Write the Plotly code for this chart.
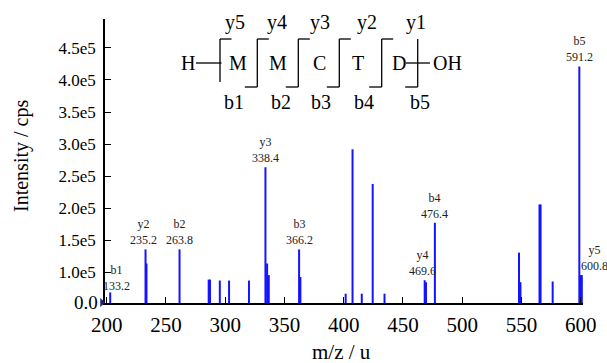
import plotly.graph_objects as go

# Observed fragment peaks: m/z position and intensity (cps)
peak_mz = [203.0, 232.8, 233.6, 261.5, 286.1, 287.2, 295.5, 303.3, 320.1,
           334.0, 335.4, 336.8, 362.4, 363.5, 401.7, 407.5, 415.3, 424.5,
           434.5, 468.4, 469.5, 477.0, 548.0, 549.2, 565.3, 566.2, 576.4,
           598.9, 599.7, 601.0]
peak_int = [0.69e5, 1.36e5, 1.14e5, 1.36e5, 0.89e5, 0.89e5, 0.875e5, 0.875e5, 0.875e5,
            2.64e5, 1.14e5, 0.96e5, 1.36e5, 0.93e5, 0.67e5, 2.92e5, 0.67e5, 2.38e5,
            0.67e5, 0.88e5, 0.85e5, 1.775e5, 1.31e5, 0.85e5, 2.06e5, 2.06e5, 0.86e5,
            4.21e5, 0.96e5, 0.96e5]

# Assigned ions: name, theoretical m/z text, index of the peak carrying the label
ion_names = ["b1", "y2", "b2", "y3", "b3", "y4", "b4", "b5", "y5"]
ion_mz_text = ["133.2", "235.2", "263.8", "338.4", "366.2", "469.6", "476.4", "591.2", "600.8"]
ion_peak = [0, 1, 3, 9, 12, 19, 21, 27, 28]
ion_xshift = [6, -2, 0, 0, 0, -2, 0, 0, 14]
ion_yshift = [-3, 0, 0, 0, 0, 0, 0, 0, 0]

# Peptide sequence for the fragmentation diagram
residues = ["M", "M", "C", "T", "D"]
y_ions = ["y5", "y4", "y3", "y2", "y1"]
b_ions = ["b1", "b2", "b3", "b4", "b5"]

y_ticks = [1.0e5, 1.5e5, 2.0e5, 2.5e5, 3.0e5, 3.5e5, 4.0e5, 4.5e5]
y_tick_text = ["1.0e5", "1.5e5", "2.0e5", "2.5e5", "3.0e5", "3.5e5", "4.0e5", "4.5e5"]
x_ticks = [200, 250, 300, 350, 400, 450, 500, 550, 600]

Y_FLOOR = 0.525e5
Y_TOP = 4.95e5
X_RANGE = [198.6, 602.0]

SERIF = "Liberation Serif, Times New Roman, serif"
W, H = 607, 363
ML, MR, MT, MB = 105, 24, 19, 60
PW, PH = W - ML - MR, H - MT - MB


def px(x):
    return (x - ML) / PW


def py(y):
    return (H - MB - y) / PH


# stick spectrum
sx, sy = [], []
for m, i in zip(peak_mz, peak_int):
    sx += [m, m, None]
    sy += [0, i, None]

fig = go.Figure()
fig.add_trace(go.Scatter(x=sx, y=sy, mode="lines",
                         line=dict(color="#1414ff", width=2), hoverinfo="skip",
                         showlegend=False))

annotations = []
for name, txt, k, xs, ys in zip(ion_names, ion_mz_text, ion_peak, ion_xshift, ion_yshift):
    annotations.append(dict(x=peak_mz[k], y=peak_int[k], xref="x", yref="y",
                            text=f"{name}<br>{txt}", showarrow=False,
                            xanchor="center", yanchor="bottom", xshift=xs, yshift=ys,
                            font=dict(family=SERIF, size=12, color="#222")))

# y-axis "0.0" label at the baseline
annotations.append(dict(x=px(100), y=py(302.5), xref="paper", yref="paper", text="0.0",
                        showarrow=False, xanchor="right", yanchor="middle",
                        font=dict(family=SERIF, size=19, color="black")))

# axis titles
annotations.append(dict(x=px(21), y=py(156), xref="paper", yref="paper",
                        text="Intensity / cps", textangle=-90, showarrow=False,
                        xanchor="center", yanchor="middle",
                        font=dict(family=SERIF, size=20, color="black")))
annotations.append(dict(x=px(341), y=py(352), xref="paper", yref="paper",
                        text="m/z / u", showarrow=False, xanchor="center", yanchor="middle",
                        font=dict(family=SERIF, size=21, color="black")))

# fragmentation diagram
dfont = dict(family=SERIF, size=20, color="black")
res_x = [238, 278, 319, 358, 399]
y_lab_x = [235, 277, 320, 367, 416]
b_lab_x = [234, 281, 321, 364, 420]
cut_x = [220, 257.3, 298.3, 339.3, 381.7, 417.7]
ROW, TOP, BOT = 63, 39, 87

annotations.append(dict(x=px(188), y=py(ROW), xref="paper", yref="paper", text="H",
                        showarrow=False, xanchor="center", yanchor="middle", font=dfont))
annotations.append(dict(x=px(447), y=py(ROW), xref="paper", yref="paper", text="OH",
                        showarrow=False, xanchor="center", yanchor="middle", font=dfont))
for r, x in zip(residues, res_x):
    annotations.append(dict(x=px(x), y=py(ROW), xref="paper", yref="paper", text=r,
                            showarrow=False, xanchor="center", yanchor="middle", font=dfont))
for t, x in zip(y_ions, y_lab_x):
    annotations.append(dict(x=px(x), y=py(23), xref="paper", yref="paper", text=t,
                            showarrow=False, xanchor="center", yanchor="middle", font=dfont))
for t, x in zip(b_ions, b_lab_x):
    annotations.append(dict(x=px(x), y=py(102), xref="paper", yref="paper", text=t,
                            showarrow=False, xanchor="center", yanchor="middle", font=dfont))

shapes = []
lw = dict(color="black", width=1.3)


def seg(x0, y0, x1, y1):
    shapes.append(dict(type="line", xref="paper", yref="paper",
                       x0=px(x0), y0=py(y0), x1=px(x1), y1=py(y1), line=lw))


seg(196, ROW, 221.5, ROW)
seg(406, ROW, 430, ROW)
for j, cx in enumerate(cut_x):
    bottom = 82 if j == 0 else BOT
    seg(cx, TOP, cx, bottom)
    if j < 5:
        seg(cx, TOP, cx + 11.5, TOP)
    if j > 0:
        seg(cx - 12.5, BOT, cx, BOT)

# small baseline marker on the left end of the axis
shapes.append(dict(type="path", xref="paper", yref="paper",
                   path=f"M {px(100.5)} {py(298.5)} L {px(105)} {py(302.5)} L {px(100.5)} {py(306.5)} Z",
                   fillcolor="#1c2470", line=dict(color="#1c2470", width=0.5)))

fig.update_layout(
    width=W, height=H,
    margin=dict(l=ML, r=MR, t=MT, b=MB),
    paper_bgcolor="white", plot_bgcolor="white",
    showlegend=False,
    font=dict(family=SERIF, color="black"),
    annotations=annotations,
    shapes=shapes,
    xaxis=dict(range=X_RANGE, tickvals=x_ticks, ticks="inside", ticklen=6,
               tickwidth=1.2, tickcolor="black", showline=True, linecolor="black",
               linewidth=1.5, showgrid=False, zeroline=False, ticklabelstandoff=2,
               tickfont=dict(family=SERIF, size=21, color="black")),
    yaxis=dict(range=[Y_FLOOR, Y_TOP], tickvals=y_ticks, ticktext=y_tick_text,
               ticks="inside", ticklen=6, tickwidth=1.2, tickcolor="black",
               showline=True, linecolor="black", linewidth=1.5, showgrid=False,
               zeroline=False, ticklabelstandoff=4,
               tickfont=dict(family=SERIF, size=17, color="black")),
)

fig.write_html("out.html")
